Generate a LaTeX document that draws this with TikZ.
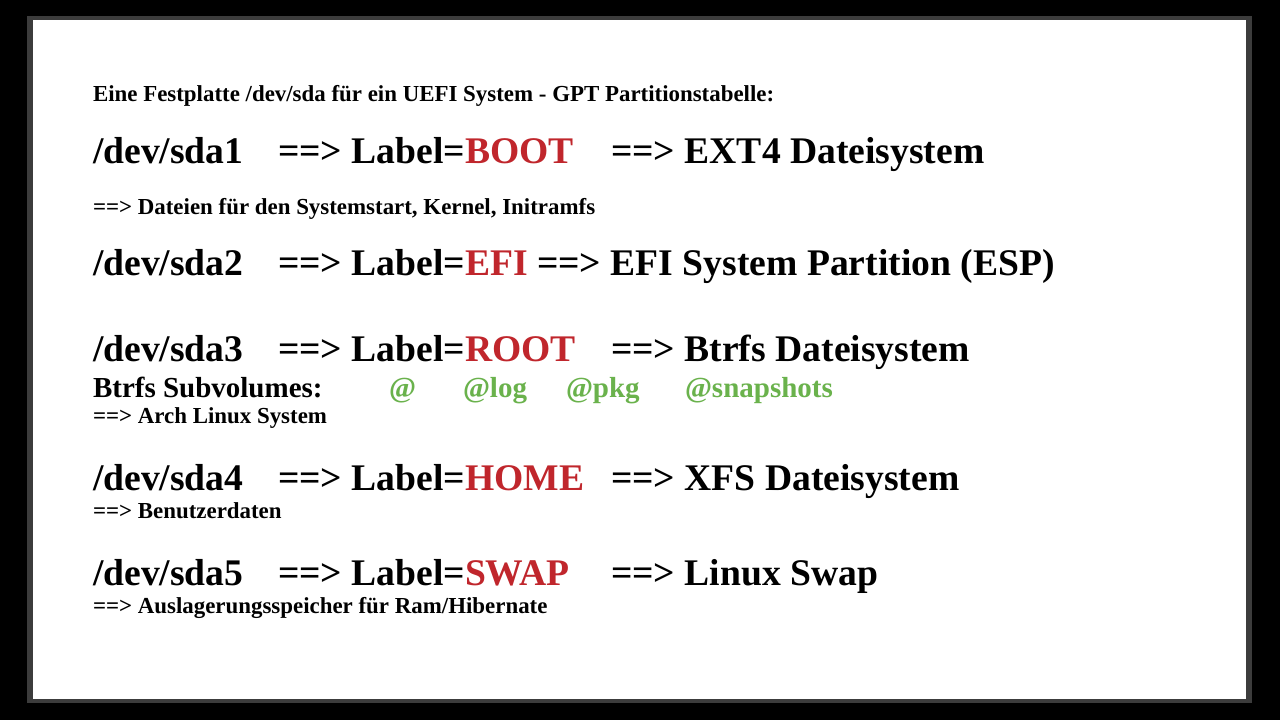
\documentclass[tikz,border=0pt]{standalone}
\usepackage{fontspec}
\setmainfont{Liberation Serif}
\definecolor{lblred}{RGB}{192,38,44}
\definecolor{subgreen}{RGB}{106,178,76}
\definecolor{framegray}{RGB}{60,60,60}
\tikzset{
  txt/.style={anchor=base west, inner sep=0pt, outer sep=0pt, font=\bfseries},
  big/.style={txt, font=\fontsize{37.6}{44}\selectfont\bfseries},
  small/.style={txt, font=\fontsize{22.9}{27}\selectfont\bfseries},
  mid/.style={txt, font=\fontsize{29}{34}\selectfont\bfseries},
  grn/.style={mid, text=subgreen}
}
\begin{document}
\begin{tikzpicture}[x=1pt,y=-1pt]
\useasboundingbox (0,0) rectangle (1280,720);
\fill[black] (0,0) rectangle (1280,720);
\fill[framegray] (27,16) rectangle (1252,703);
\fill[white] (33,20) rectangle (1246,699);

\node[small] (title) at (93,101) {Eine Festplatte /dev/sda für ein UEFI System - GPT Partitionstabelle:};

\node[big] (d1) at (93,163) {/dev/sda1};
\node[big] (l1) at (278,163) {==> Label=\textcolor{lblred}{BOOT}};
\node[big] (f1) at (611,163) {==> EXT4 Dateisystem};
\node[small] (s1) at (93,214) {==> Dateien für den Systemstart, Kernel, Initramfs};

\node[big] (d2) at (93,275) {/dev/sda2};
\node[big] (l2) at (278,275) {==> Label=\textcolor{lblred}{EFI} ==> EFI System Partition (ESP)};

\node[big] (d3) at (93,361) {/dev/sda3};
\node[big] (l3) at (278,361) {==> Label=\textcolor{lblred}{ROOT}};
\node[big] (f3) at (611,361) {==> Btrfs Dateisystem};
\node[mid] (sv) at (93,397) {Btrfs Subvolumes:};
\node[grn] (g1) at (389,397) {@};
\node[grn] (g2) at (463,397) {@log};
\node[grn] (g3) at (566,397) {@pkg};
\node[grn] (g4) at (685,397) {@snapshots};
\node[small] (s3) at (93,423) {==> Arch Linux System};

\node[big] (d4) at (93,490) {/dev/sda4};
\node[big] (l4) at (278,490) {==> Label=\textcolor{lblred}{HOME}};
\node[big] (f4) at (611,490) {==> XFS Dateisystem};
\node[small] (s4) at (93,518) {==> Benutzerdaten};

\node[big] (d5) at (93,585) {/dev/sda5};
\node[big] (l5) at (278,585) {==> Label=\textcolor{lblred}{SWAP}};
\node[big] (f5) at (611,585) {==> Linux Swap};
\node[small] (s5) at (93,613) {==> Auslagerungsspeicher für Ram/Hibernate};
\end{tikzpicture}
\end{document}
